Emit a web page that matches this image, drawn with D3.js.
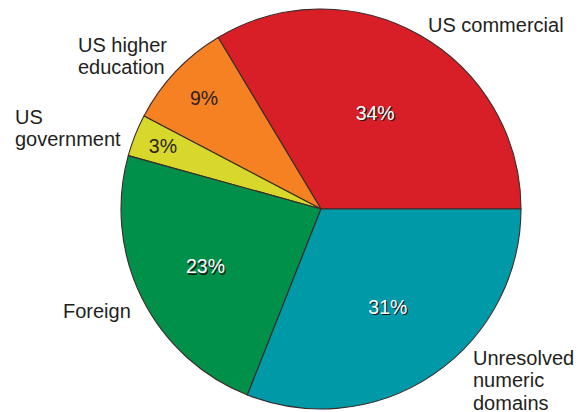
<!DOCTYPE html>
<html>
<head>
<meta charset="utf-8">
<script src="https://cdn.jsdelivr.net/npm/d3@7"></script>
<style>
  body { margin: 0; background: #fff; }
  svg { display: block; }
</style>
</head>
<body>
<div id="chart"></div>
<script>
  // DATA (slice order is counterclockwise from 3 o'clock)
  const categories = ["US commercial", "US higher education", "US government", "Foreign", "Unresolved numeric domains"];
  const shares = [33.6, 8.7, 3.4, 23.3, 31.0];
  const colors = ["#d81e27", "#f58123", "#d8d72c", "#00904a", "#0099a8"];

  // LAYOUT
  const WIDTH = 579, HEIGHT = 412;
  const CENTER = { x: 321, y: 209 };
  const RADIUS = 200;
  const pctRadius = [110, 161, 170, 129, 119];
  const pctDark = [false, true, true, false, false];
  const nameLines = [["US commercial"], ["US higher", "education"], ["US", "government"], ["Foreign"], ["Unresolved", "numeric", "domains"]];
  const namePos = [[428, 32], [78, 52], [15, 124], [63, 318], [473, 365]];
  const LINE_H = 22.3;
  const FONT = "'Liberation Sans', Arial, Helvetica, sans-serif";

  const svg = d3.select("#chart")
    .append("svg")
    .attr("width", WIDTH)
    .attr("height", HEIGHT);

  const g = svg.append("g")
    .attr("transform", `translate(${CENTER.x},${CENTER.y})`);

  const pie = d3.pie()
    .sort(null)
    .value(d => d)
    .startAngle(Math.PI / 2)
    .endAngle(Math.PI / 2 - 2 * Math.PI);

  const arcs = pie(shares);
  const arc = d3.arc().innerRadius(0).outerRadius(RADIUS);

  // SLICES
  g.selectAll("path.slice")
    .data(arcs)
    .join("path")
    .attr("class", "slice")
    .attr("d", arc)
    .style("fill", (d, i) => colors[i])
    .style("stroke", "#3b2b2b")
    .style("stroke-width", 1.1)
    .style("stroke-linejoin", "round");

  // PERCENT LABELS
  const pctPos = arcs.map((d, i) => {
    const a = (d.startAngle + d.endAngle) / 2;
    return [Math.sin(a) * pctRadius[i], -Math.cos(a) * pctRadius[i]];
  });

  arcs.forEach((d, i) => {
    const txt = Math.round(shares[i]) + "%";
    const [x, y] = pctPos[i];
    if (!pctDark[i]) {
      g.append("text")
        .attr("x", x + 1.2)
        .attr("y", y + 1.2)
        .attr("text-anchor", "middle")
        .attr("dy", "0.35em")
        .style("font-family", FONT)
        .style("font-size", "19.5px")
        .style("fill", "#1a1a1a")
        .text(txt);
    }
    g.append("text")
      .attr("x", x)
      .attr("y", y)
      .attr("text-anchor", "middle")
      .attr("dy", "0.35em")
      .style("font-family", FONT)
      .style("font-size", "19.5px")
      .style("fill", pctDark[i] ? "#2a2222" : "#ffffff")
      .text(txt);
  });

  // CATEGORY LABELS
  categories.forEach((c, i) => {
    const t = svg.append("text")
      .attr("x", namePos[i][0])
      .attr("y", namePos[i][1])
      .style("font-family", FONT)
      .style("font-size", "20px")
      .style("fill", "#231f20");
    nameLines[i].forEach((line, j) => {
      t.append("tspan")
        .attr("x", namePos[i][0])
        .attr("y", namePos[i][1] + j * LINE_H)
        .text(line);
    });
  });
</script>
</body>
</html>
